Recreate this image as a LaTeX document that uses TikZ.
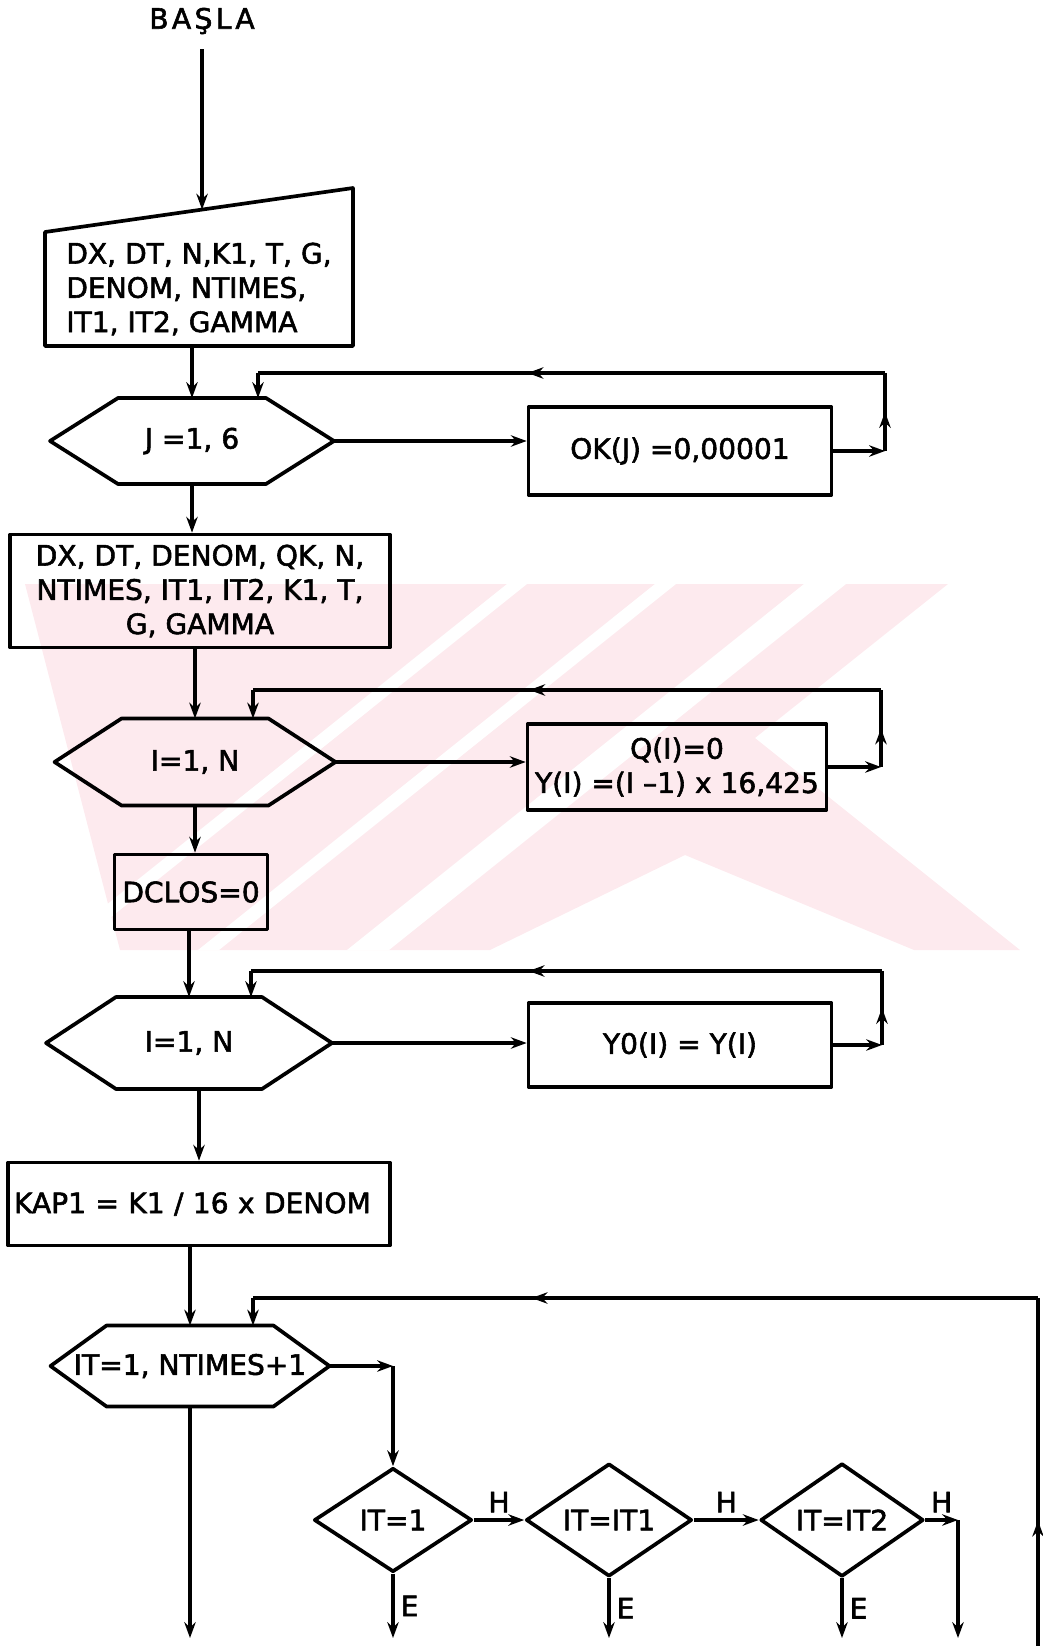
\documentclass[tikz,border=0pt]{standalone}
\usepackage{fontspec}
\setmainfont{DejaVu Sans}[FakeBold=2]
\usetikzlibrary{arrows.meta, calc, decorations.markings, shapes.geometric, positioning}
\definecolor{wmpink}{RGB}{253,234,238}

% outline of a loop hexagon drawn round a plain node
\newcommand{\hexoutline}[2]{%
  \draw[flow] (#1.west) -- ($(#1.north west)+(#2,0)$) -- ($(#1.north east)+(-#2,0)$)
    -- (#1.east) -- ($(#1.south east)+(-#2,0)$) -- ($(#1.south west)+(#2,0)$) -- cycle;}

\begin{document}
\begin{tikzpicture}[x=0.02cm, y=-0.02cm,
    font=\fontsize{16}{19.5}\selectfont,
    flow/.style={line width=2.1pt, line join=round},
    arr/.style={flow, -{Stealth[length=9pt, width=6.5pt]}},
    midarr/.style={flow, postaction={decorate}, decoration={markings,
        mark=at position #1 with {\arrow{Stealth[length=9pt, width=6.5pt]}}}},
    midarr/.default=0.5,
    box/.style={draw, flow, rectangle, inner sep=0pt, align=center},
    plain/.style={rectangle, inner sep=0pt, outer sep=0pt},
    test/.style={draw, flow, diamond, inner sep=0pt, minimum height=2.08cm}]
    \useasboundingbox (0,0) rectangle (1042,1646);

    % watermark
    \begin{scope}
        \clip (25,584) rectangle (1020,950);
        \fill[wmpink] (25,584) -- (948,584) -- (755,738) -- (1020,950) -- (914,950)
            -- (685,855) -- (490,950) -- (120,950) -- cycle;
        \foreach \a/\w in {507/20, 655/21, 804/42}
            \fill[white] (\a,584) -- (\a+\w,584) -- (\a+\w-457,950) -- (\a-457,950) -- cycle;
    \end{scope}

    % start and input
    \node (start) at (202,21) {\addfontfeatures{LetterSpace=12}BAŞLA};
    \node[plain, minimum width=6.16cm, minimum height=2.28cm, align=left] (inp) at (199,289)
        {DX, DT, N,K1, T, G,\\DENOM, NTIMES,\\IT1, IT2, GAMMA};
    \coordinate (inpNE) at ($(inp.north east)+(0,-44)$);
    \draw[flow] (inp.south west) -- (inp.north west) -- (inpNE) -- (inp.south east) -- cycle;
    \coordinate (inptop) at ($(inp.north west)!0.51!(inpNE)$);
    \draw[arr, shorten <=5pt] (start) -- (inptop);

    % J loop
    \node[plain, minimum width=5.68cm, minimum height=1.72cm] (hexJ) at (192,441) {J =1, 6};
    \hexoutline{hexJ}{68}
    \node[box, minimum width=6.06cm, minimum height=1.76cm] (okJ) at (680,451) {OK(J) =0,00001};
    \coordinate (jTR) at (885,373);
    \coordinate (jTL) at (258,373);
    \draw[arr] (inp.south -| hexJ.north) -- (hexJ.north);
    \draw[arr] (hexJ.east) -- (hexJ.east -| okJ.west);
    \draw[arr] (okJ.east) -- (okJ.east -| jTR);
    \draw[midarr] (okJ.east -| jTR) -- (jTR);
    \draw[midarr=0.57] (jTR) -- (jTL);
    \draw[arr] (jTL) -- (jTL |- hexJ.north);

    \node[box, minimum width=7.6cm, minimum height=2.26cm] (pars) at (200,591)
        {DX, DT, DENOM, QK, N,\\NTIMES, IT1, IT2, K1, T,\\G, GAMMA};
    \draw[arr] (hexJ.south) -- (hexJ.south |- pars.north);

    % first I loop
    \node[plain, minimum width=5.62cm, minimum height=1.74cm] (hexI) at (195,762) {I=1, N};
    \hexoutline{hexI}{67}
    \node[box, minimum width=5.98cm, minimum height=1.72cm] (qbox) at (677,767)
        {Q(I)=0\\Y(I) =(I –1) x 16,425};
    \coordinate (iTR) at (881,690);
    \coordinate (iTL) at (253,690);
    \draw[arr] (pars.south -| hexI.north) -- (hexI.north);
    \draw[arr] (hexI.east) -- (hexI.east -| qbox.west);
    \draw[arr] (qbox.east) -- (qbox.east -| iTR);
    \draw[midarr] (qbox.east -| iTR) -- (iTR);
    \draw[midarr=0.56] (iTR) -- (iTL);
    \draw[arr] (iTL) -- (iTL |- hexI.north);

    \node[box, minimum width=3.06cm, minimum height=1.5cm] (dclos) at (191,892) {DCLOS=0};
    \draw[arr] (hexI.south) -- (hexI.south |- dclos.north);

    % second I loop
    \node[plain, minimum width=5.72cm, minimum height=1.84cm] (hexY) at (189,1043) {I=1, N};
    \hexoutline{hexY}{70}
    \node[box, minimum width=6.06cm, minimum height=1.68cm] (ybox) at (680,1045) {Y0(I) = Y(I)};
    \coordinate (yTR) at (882,971);
    \coordinate (yTL) at (251,971);
    \draw[arr] (dclos.south -| hexY.north) -- (hexY.north);
    \draw[arr] (hexY.east) -- (hexY.east -| ybox.west);
    \draw[arr] (ybox.east) -- (ybox.east -| yTR);
    \draw[midarr] (ybox.east -| yTR) -- (yTR);
    \draw[midarr=0.56] (yTR) -- (yTL);
    \draw[arr] (yTL) -- (yTL |- hexY.north);

    \node[box, minimum width=7.64cm, minimum height=1.66cm, text width=7.4cm, align=left] (kap)
        at (199,1204) {KAP1 = K1 / 16 x DENOM};
    \draw[arr] (hexY.south -| kap.north) -- (kap.north);

    % time loop
    \node[plain, minimum width=5.58cm, minimum height=1.62cm] (hexIT) at (190,1366) {IT=1, NTIMES+1};
    \hexoutline{hexIT}{56}
    \draw[arr] (kap.south -| hexIT.north) -- (hexIT.north);

    \node[test, minimum width=3.16cm] (d1) at (393,1520) {IT=1};
    \node[test, minimum width=3.32cm] (d2) at (609,1520) {IT=IT1};
    \node[test, minimum width=3.26cm] (d3) at (842,1520) {IT=IT2};
    \coordinate (bot) at (0,1638);
    \coordinate (hR) at (958,1638);
    \coordinate (back) at (1038,1646);
    \coordinate (tTR) at (1038,1298);
    \coordinate (tTL) at (253,1298);

    \draw[arr] (hexIT.east) -- (hexIT.east -| d1.north);
    \draw[arr] (hexIT.east -| d1.north) -- (d1.north);
    \draw[arr] (d1.east) -- node[above] {H} (d2.west);
    \draw[arr] (d2.east) -- node[above] {H} (d3.west);
    \draw[arr] (d3.east) -- node[above] {H} (d3.east -| hR);
    \draw[arr] (d3.east -| hR) -- (hR);
    \draw[arr] (d1.south) -- node[right] {E} (d1.south |- bot);
    \draw[arr] (d2.south) -- node[right] {E} (d2.south |- bot);
    \draw[arr] (d3.south) -- node[right] {E} (d3.south |- bot);
    \draw[arr] (hexIT.south) -- (hexIT.south |- bot);

    \draw[midarr=0.36] (back) -- (tTR);
    \draw[midarr=0.645] (tTR) -- (tTL);
    \draw[arr] (tTL) -- (tTL |- hexIT.north);
\end{tikzpicture}
\end{document}
